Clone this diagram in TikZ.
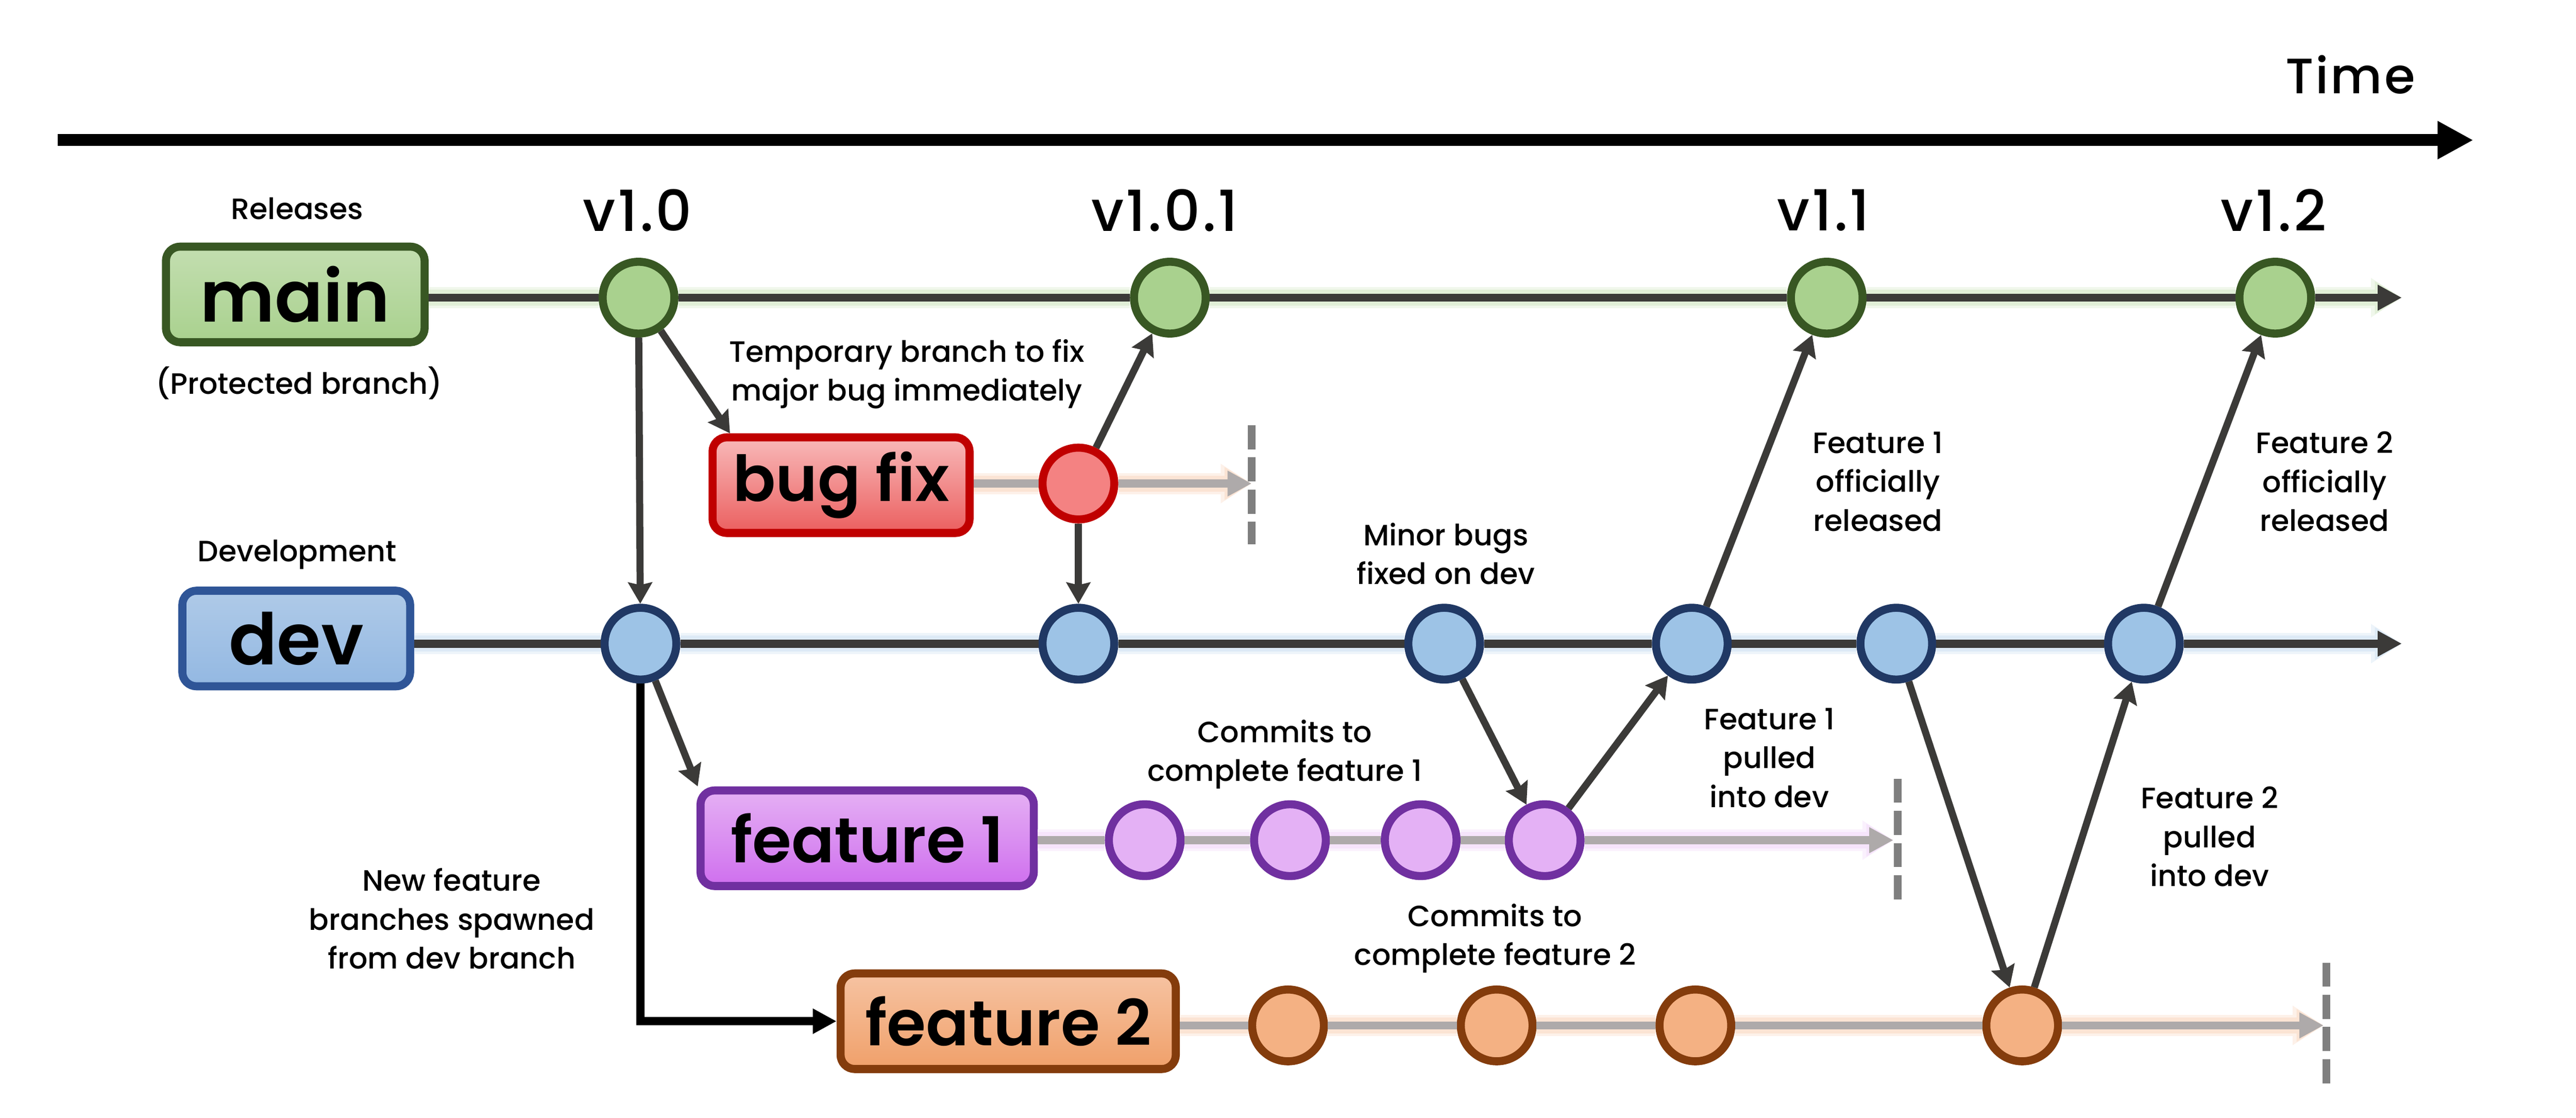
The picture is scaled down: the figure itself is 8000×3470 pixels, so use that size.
\documentclass[tikz,border=0pt]{standalone}
\usepackage{fontspec}
\setmainfont{Poppins}
\newfontfamily\labelfont{Poppins Medium}
\newfontfamily\heavyfont{Poppins SemiBold}
\newfontfamily\versionfont[LetterSpace=4]{Poppins Medium}
\usetikzlibrary{arrows.meta}
\definecolor{linegray}{HTML}{3B3A38}
\definecolor{endgray}{HTML}{AEAAAA}
\definecolor{dashgray}{HTML}{7F7F7F}
\definecolor{greenline}{HTML}{385723}
\definecolor{greenfill}{HTML}{A9D18E}
\definecolor{greentop}{HTML}{C3DEB0}
\definecolor{blueline}{HTML}{2F5597}
\definecolor{bluefill}{HTML}{9DC3E6}
\definecolor{bluetop}{HTML}{AFCAE8}
\definecolor{bluemid}{HTML}{A3C2E6}
\definecolor{bluelow}{HTML}{93B8E2}
\definecolor{darkblue}{HTML}{203864}
\definecolor{redline}{HTML}{C00000}
\definecolor{redfill}{HTML}{F48282}
\definecolor{redtop}{HTML}{F8B9B9}
\definecolor{redmid}{HTML}{F28C8C}
\definecolor{redlow}{HTML}{EB5F5F}
\definecolor{purpleline}{HTML}{7030A0}
\definecolor{purplefill}{HTML}{E4B1F5}
\definecolor{purpletop}{HTML}{E5B0F4}
\definecolor{purplemid}{HTML}{DC96F0}
\definecolor{purplelow}{HTML}{CF6FEE}
\definecolor{orangeline}{HTML}{843C0C}
\definecolor{orangefill}{HTML}{F4B183}
\definecolor{orangetop}{HTML}{F6C3A2}
\definecolor{orangemid}{HTML}{F3B288}
\definecolor{orangelow}{HTML}{F0A06A}
\tikzset{
    branchbox/.style n args={4}{
        draw=#1,top color=#2,middle color=#3,bottom color=#4,
        line width=0.125cm,rounded corners=0.22cm,inner sep=0pt,
        minimum height=1.485cm,
    },
    bigtext/.style={font=\heavyfont\fontsize{31.5}{31.5}\selectfont},
    midtext/.style={font=\heavyfont\fontsize{28}{28}\selectfont},
    commit/.style 2 args={
        circle,draw=#1,fill=#2,line width=0.125cm,inner sep=0pt,minimum size=1.115cm,
    },
    note/.style={align=center,inner sep=0pt,font=\labelfont\fontsize{13}{17.2}\selectfont},
    version/.style={inner sep=0pt,font=\versionfont\fontsize{25}{25}\selectfont},
    merge/.style={draw=linegray,line width=0.11cm,-{Stealth[length=0.33cm,width=0.37cm,inset=0.04cm]}},
    trunk/.style={draw=linegray,line width=0.125cm,-{Triangle[length=0.375cm,width=0.375cm]},
        preaction={draw=#1!18,line width=0.33cm,-{Triangle[length=0.48cm,width=0.58cm]}},
        preaction={draw=#1!35,line width=0.25cm,-{Triangle[length=0.42cm,width=0.48cm]}}},
    twig/.style={draw=endgray,line width=0.125cm,-{Triangle[length=0.375cm,width=0.375cm]},
        preaction={draw=#1!18,line width=0.33cm,-{Triangle[length=0.48cm,width=0.58cm]}},
        preaction={draw=#1!35,line width=0.25cm,-{Triangle[length=0.42cm,width=0.48cm]}}},
    stopline/.style={draw=dashgray,line width=0.12cm,dash pattern=on 0.375cm off 0.125cm},
}

\begin{document}
\begin{tikzpicture}[x=0.005cm,y=-0.005cm]
\useasboundingbox (0,0) rectangle (8000,3470);

% Time axis
\coordinate (timestart) at (179,435);
\coordinate (timeend) at (7681,435);
\draw[line width=0.185cm,-{Triangle[length=0.555cm,width=0.555cm]}] (timestart) -- (timeend);
\node[inner sep=0pt,font=\versionfont\fontsize{22}{22}\selectfont] (timelabel) at (7299,232) {Time};

% Branch labels
\node[branchbox={greenline}{greentop}{greenfill}{greenfill},bigtext] [minimum width=4.02cm] (mainbox) at (917,914) {main};
\node[branchbox={blueline}{bluetop}{bluemid}{bluelow},bigtext] [minimum width=3.54cm] (devbox) at (920,1982) {dev};
\node[branchbox={redline}{redtop}{redmid}{redlow},midtext] [minimum width=3.995cm] (bugbox) at (2612,1506) {bug fix};
\node[branchbox={purpleline}{purpletop}{purplemid}{purplelow},midtext] [minimum width=5.18cm] (featonebox) at (2693,2602) {feature 1};
\node[branchbox={orangeline}{orangetop}{orangemid}{orangelow},midtext] [minimum width=5.21cm] (feattwobox) at (3131,3170) {feature 2};

% main commits
\node[commit={greenline}{greenfill}] (mainA) at (1983,924) {};
\node[commit={greenline}{greenfill}] (mainB) at (3633,924) {};
\node[commit={greenline}{greenfill}] (mainC) at (5673,924) {};
\node[commit={greenline}{greenfill}] (mainD) at (7066,924) {};
\coordinate (mainend) at (7459,924);

% bug fix commit
\node[commit={redline}{redfill}] (bugA) at (3349,1501) {};
\coordinate (bugend) at (3887,1501);

% dev commits
\node[commit={darkblue}{bluefill}] (devA) at (1989,1998) {};
\node[commit={darkblue}{bluefill}] (devB) at (3349,1998) {};
\node[commit={darkblue}{bluefill}] (devC) at (4485,1998) {};
\node[commit={darkblue}{bluefill}] (devD) at (5254,1998) {};
\node[commit={darkblue}{bluefill}] (devE) at (5889,1998) {};
\node[commit={darkblue}{bluefill}] (devF) at (6658,1998) {};
\coordinate (devend) at (7459,1998);

% feature 1 commits
\node[commit={purpleline}{purplefill}] (featoneA) at (3555,2608) {};
\node[commit={purpleline}{purplefill}] (featoneB) at (4006,2608) {};
\node[commit={purpleline}{purplefill}] (featoneC) at (4412,2608) {};
\node[commit={purpleline}{purplefill}] (featoneD) at (4797,2608) {};
\coordinate (featoneend) at (5880,2608);

% feature 2 commits
\node[commit={orangeline}{orangefill}] (feattwoA) at (4000,3183) {};
\node[commit={orangeline}{orangefill}] (feattwoB) at (4648,3183) {};
\node[commit={orangeline}{orangefill}] (feattwoC) at (5265,3183) {};
\node[commit={orangeline}{orangefill}] (feattwoD) at (6280,3183) {};
\coordinate (feattwoend) at (7216,3183);

% Branch lines
\draw[trunk=greenfill] (mainbox.east |- mainA) -- (mainA) -- (mainB) -- (mainC) -- (mainD) -- (mainend);
\draw[trunk=bluefill] (devbox.east |- devA) -- (devA) -- (devB) -- (devC) -- (devD) -- (devE) -- (devF) -- (devend);
\draw[twig=orangefill] (bugbox.east |- bugA) -- (bugA) -- (bugend);
\draw[twig=purplefill] (featonebox.east |- featoneA) -- (featoneA) -- (featoneB) -- (featoneC) -- (featoneD) -- (featoneend);
\draw[twig=orangefill] (feattwobox.east |- feattwoA) -- (feattwoA) -- (feattwoB) -- (feattwoC) -- (feattwoD) -- (feattwoend);

% Branch ends
\coordinate (bugstoptop) at (3887,1320);
\coordinate (bugstopend) at (3887,1690);
\coordinate (featonestoptop) at (5893,2417);
\coordinate (featonestopend) at (5893,2795);
\coordinate (feattwostoptop) at (7224,2988);
\coordinate (feattwostopend) at (7224,3366);
\draw[stopline] (bugstoptop) -- (bugstopend);
\draw[stopline] (featonestoptop) -- (featonestopend);
\draw[stopline] (feattwostoptop) -- (feattwostopend);

% Merges
\draw[merge] (mainA) -- (devA);
\draw[merge] (mainA) -- (bugbox.155.7);
\draw[merge] (bugA) -- (mainB);
\draw[merge] (bugA) -- (devB);
\draw[merge] (devA) -- (featonebox.163);
\draw[merge] (devC) -- (featoneD);
\draw[merge] (featoneD) -- (devD);
\draw[merge] (devD) -- (mainC);
\draw[merge] (devE) -- (feattwoD);
\draw[merge] (feattwoD) -- (devF);
\draw[merge] (devF) -- (mainD);
\draw[line width=0.125cm,-{Triangle[length=0.37cm,width=0.37cm]}] (devA) |- (feattwobox);

% Versions
\node[version] (verA) at (1980,653) {v1.0};
\node[version] (verB) at (3617,653) {v1.0.1};
\node[version] (verC) at (5663,653) {v1.1};
\node[version] (verD) at (7061,653) {v1.2};

% Labeling
\node[note] (releases) at (923,648) {Releases};
\node[note] (protected) at (929,1189) {(Protected branch)};
\node[note] (development) at (923,1722) {Development};
\node[note] (bugnote) at (2816,1161) {Temporary branch to fix\\major bug immediately};
\node[note] (minornote) at (4490,1719) {Minor bugs\\fixed on dev};
\node[note] (relonenote) at (5832,1495) {Feature 1\\officially\\released};
\node[note] (reltwonote) at (7219,1495) {Feature 2\\officially\\released};
\node[note] (commitonenote) at (3990,2342) {Commits to\\complete feature 1};
\node[note] (pullonenote) at (5495,2352) {Feature 1\\pulled\\into dev};
\node[note] (committwonote) at (4643,2913) {Commits to\\complete feature 2};
\node[note] (pulltwonote) at (6862,2597) {Feature 2\\pulled\\into dev};
\node[note] (spawnnote) at (1403,2852) {New feature\\branches spawned\\from dev branch};
\end{tikzpicture}
\end{document}
